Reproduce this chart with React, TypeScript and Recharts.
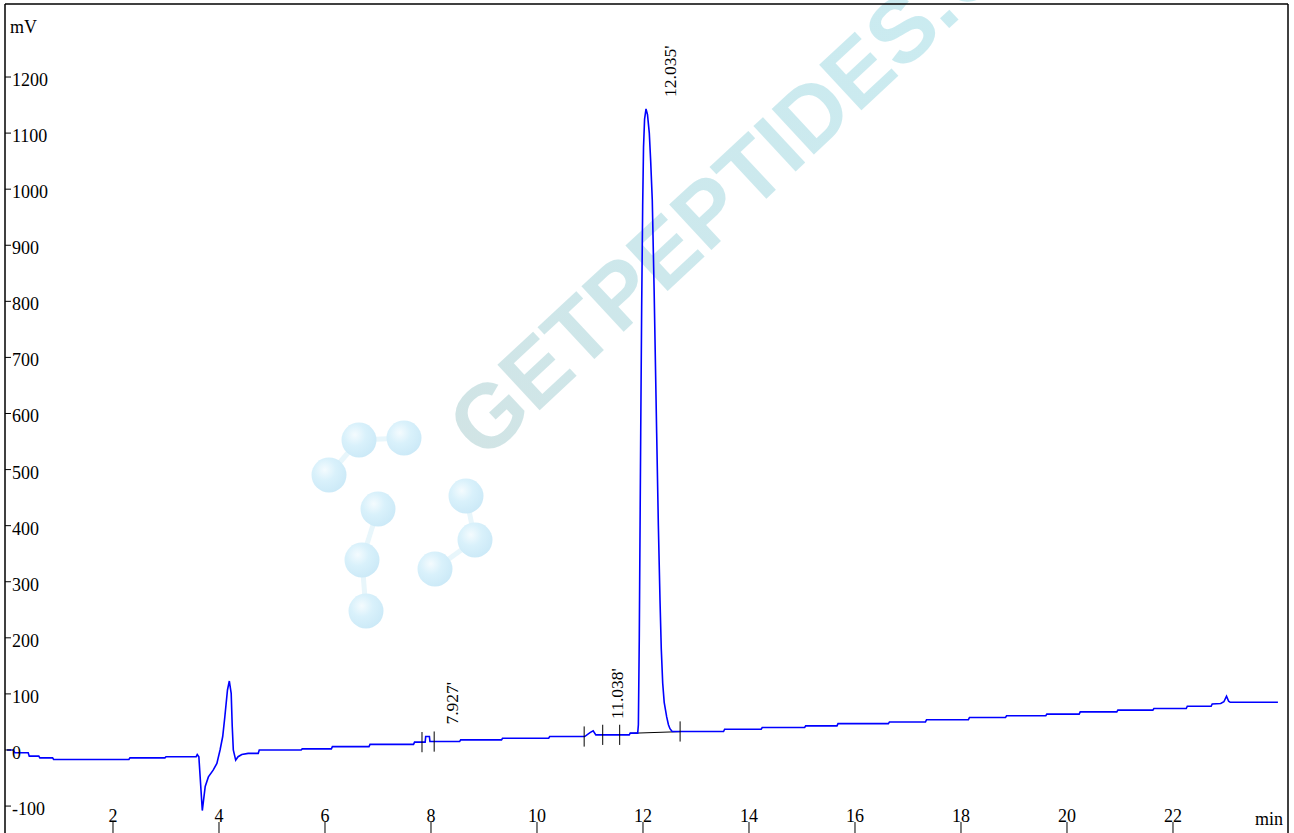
import React from 'react';
import { LineChart, Line, XAxis, YAxis, ReferenceLine, ReferenceDot } from 'recharts';

// chromatogram trace (min, mV)
const traceTime = [
  0, 0.12, 0.15, 0.4, 0.42, 0.6, 0.62, 0.86, 0.88, 2.3, 2.32, 2.98, 3.0, 3.57, 3.59, 3.62,
  3.685, 3.74, 3.8, 3.89, 3.96, 4.02, 4.07, 4.11, 4.16, 4.195, 4.23, 4.25, 4.27, 4.315, 4.36,
  4.43, 4.55, 4.74, 4.76, 5.55, 5.57, 6.12, 6.14, 6.83, 6.85, 7.67, 7.69, 7.89, 7.9, 7.97,
  7.98, 8.54, 8.56, 9.33, 9.35, 10.22, 10.24, 10.9, 11.0, 11.06, 11.11, 11.74, 11.76, 11.9,
  11.913, 11.93, 11.957, 11.975, 11.994, 12.01, 12.03, 12.057, 12.085, 12.119, 12.145, 12.175,
  12.21, 12.258, 12.29, 12.321, 12.345, 12.372, 12.4, 12.447, 12.48, 12.509, 12.55, 13.52,
  13.54, 14.23, 14.25, 15.05, 15.07, 15.66, 15.68, 16.63, 16.65, 17.33, 17.35, 18.14, 18.16,
  18.84, 18.86, 19.6, 19.62, 20.23, 20.25, 20.94, 20.96, 21.62, 21.64, 22.25, 22.27, 22.72,
  22.74, 22.9, 22.96, 23.01, 23.05, 23.08, 23.98,
];
const traceMv = [
  0, 0, -5, -5, -11, -11, -14, -14, -17, -17, -14, -14, -12, -12, -8, -12,
  -108, -65, -48, -36, -24, 0, 24, 59, 107, 123, 101, 42, 0, -18, -12,
  -8, -6, -6, 0, 0, 2, 2, 6, 6, 10, 10, 14, 14, 24, 24,
  15, 15, 18, 18, 21, 21, 24, 24, 31, 34, 27, 27, 30, 30,
  45, 200, 565, 790, 970, 1075, 1125, 1143, 1133, 1100, 1050, 981,
  820, 565, 400, 267, 180, 119, 85, 59, 45, 38, 33, 33,
  37, 37, 40, 40, 43, 43, 47, 47, 50, 50, 54, 54, 58,
  58, 61, 61, 64, 64, 68, 68, 71, 71, 74, 74, 78, 78,
  82, 83, 86, 96, 87, 85, 85,
];

const timeTicks = [2, 4, 6, 8, 10, 12, 14, 16, 18, 20, 22];
const mvTicks = [-100, 0, 100, 200, 300, 400, 500, 600, 700, 800, 900, 1000, 1100, 1200];

const peakTimes = [7.927, 11.038, 12.035];
const peakApex = [24, 34, 1143];
const peakNames = ["7.927'", "11.038'", "12.035'"];

// integration marks and drawn baseline
const markTimes = [7.83, 8.06, 10.89, 11.24, 11.56, 12.7];
const markLevels = [14, 15, 24, 27, 27, 33];
const baseTimes = [11.75, 12.7];
const baseLevels = [29.7, 32.7];

const data = traceTime.map((t, i) => ({ t, mv: traceMv[i] }));

const serif = "'Liberation Serif', 'Times New Roman', serif";

const YTick = (props: any) => (
  <text x={props.x} y={props.y} dy={9} textAnchor="start" fontSize={18} fontFamily={serif} fill="#000">
    {props.payload.value}
  </text>
);

const XTick = (props: any) => (
  <text x={props.x} y={props.y} dy={-0.5} textAnchor="middle" fontSize={18} fontFamily={serif} fill="#000">
    {props.payload.value}
  </text>
);

const peakLabel = (name: string) => (props: any) => {
  const x = props.cx + 31;
  const y = props.cy - 12;
  return (
    <text x={x} y={y} transform={`rotate(-90 ${x} ${y})`} fontSize={17.5} fontFamily={serif} fill="#000">
      {name}
    </text>
  );
};

const bubbles = [
  [329, 475], [359, 440], [404, 438], [378, 509], [362, 560], [366, 611], [466, 496], [475, 540], [435, 569],
];
const bonds = [[0, 1], [1, 2], [3, 4], [4, 5], [6, 7], [7, 8]];

function Watermark() {
  return (
    <svg width={1294} height={833} style={{ position: 'absolute', left: 0, top: 0 }}>
      <defs>
        <radialGradient id="bub" cx="0.38" cy="0.35" r="0.7">
          <stop offset="0" stopColor="#f4fbfe" />
          <stop offset="0.45" stopColor="#d9f1fb" />
          <stop offset="1" stopColor="#cbe9f7" />
        </radialGradient>
        <linearGradient id="wm" x1="0" y1="0" x2="1" y2="0">
          <stop offset="0" stopColor="#d1e4e5" />
          <stop offset="0.3" stopColor="#cde8ec" />
          <stop offset="1" stopColor="#c9edf3" />
        </linearGradient>
      </defs>
      {bonds.map(([a, b], i) => (
        <line key={i} x1={bubbles[a][0]} y1={bubbles[a][1]} x2={bubbles[b][0]} y2={bubbles[b][1]} stroke="#e8f6fb" strokeWidth={5} />
      ))}
      {bubbles.map(([cx, cy], i) => (
        <circle key={i} cx={cx} cy={cy} r={17.5} fill="url(#bub)" />
      ))}
      <text
        x={484}
        y={462}
        transform="rotate(-43 484 462)"
        fontFamily="'Liberation Sans', Arial, sans-serif"
        fontWeight="bold"
        fontSize={90}
        fill="url(#wm)"
      >
        GETPEPTIDES.COM
      </text>
    </svg>
  );
}

export default function App() {
  return (
    <div style={{ position: 'fixed', left: 0, top: 0, width: 1294, height: 833, overflow: 'hidden', background: '#fff' }}>
      <Watermark />
      <div style={{ position: 'absolute', left: 0, top: 0 }}>
        <LineChart width={1294} height={840} data={data} margin={{ top: 4, right: 6, bottom: 5, left: 5 }}>
          <XAxis
            dataKey="t"
            type="number"
            domain={[-0.0377, 24.17]}
            allowDataOverflow
            ticks={timeTicks}
            mirror
            tickSize={13}
            tickMargin={0}
            tick={XTick}
            axisLine={{ stroke: '#000', strokeWidth: 1.5 }}
            tickLine={{ stroke: '#000' }}
          />
          <XAxis xAxisId="top" orientation="top" type="number" domain={[0, 1]} mirror tick={false} tickLine={false}
            axisLine={{ stroke: '#000', strokeWidth: 1.5 }} />
          <YAxis
            type="number"
            domain={[-151.6, 1330.2]}
            allowDataOverflow
            ticks={mvTicks}
            mirror
            tickSize={6}
            tickMargin={1}
            tick={YTick}
            axisLine={{ stroke: '#000', strokeWidth: 1.5 }}
            tickLine={{ stroke: '#000' }}
          />
          <YAxis yAxisId="right" orientation="right" type="number" domain={[0, 1]} mirror tick={false} tickLine={false}
            axisLine={{ stroke: '#000', strokeWidth: 1.5 }} />
          <ReferenceLine
            segment={[
              { x: baseTimes[0], y: baseLevels[0] },
              { x: baseTimes[1], y: baseLevels[1] },
            ]}
            stroke="#000"
            strokeWidth={1}
          />
          <Line dataKey="mv" type="linear" stroke="#0000ff" strokeWidth={1.6} dot={false} isAnimationActive={false} />
          {markTimes.map((t, i) => (
            <ReferenceLine
              key={`m${i}`}
              segment={[
                { x: t, y: markLevels[i] - 18 },
                { x: t, y: markLevels[i] + 18 },
              ]}
              stroke="#000"
              strokeWidth={1}
            />
          ))}
          {peakTimes.map((t, i) => (
            <ReferenceDot key={`p${i}`} x={t} y={peakApex[i]} r={0} shape={peakLabel(peakNames[i])} />
          ))}
        </LineChart>
      </div>
      <svg width={1294} height={833} style={{ position: 'absolute', left: 0, top: 0, pointerEvents: 'none' }}>
        <text x={10} y={33} fontSize={18} fontFamily={serif} fill="#000">mV</text>
        <text x={1283} y={825} textAnchor="end" fontSize={18} fontFamily={serif} fill="#000">min</text>
      </svg>
    </div>
  );
}
